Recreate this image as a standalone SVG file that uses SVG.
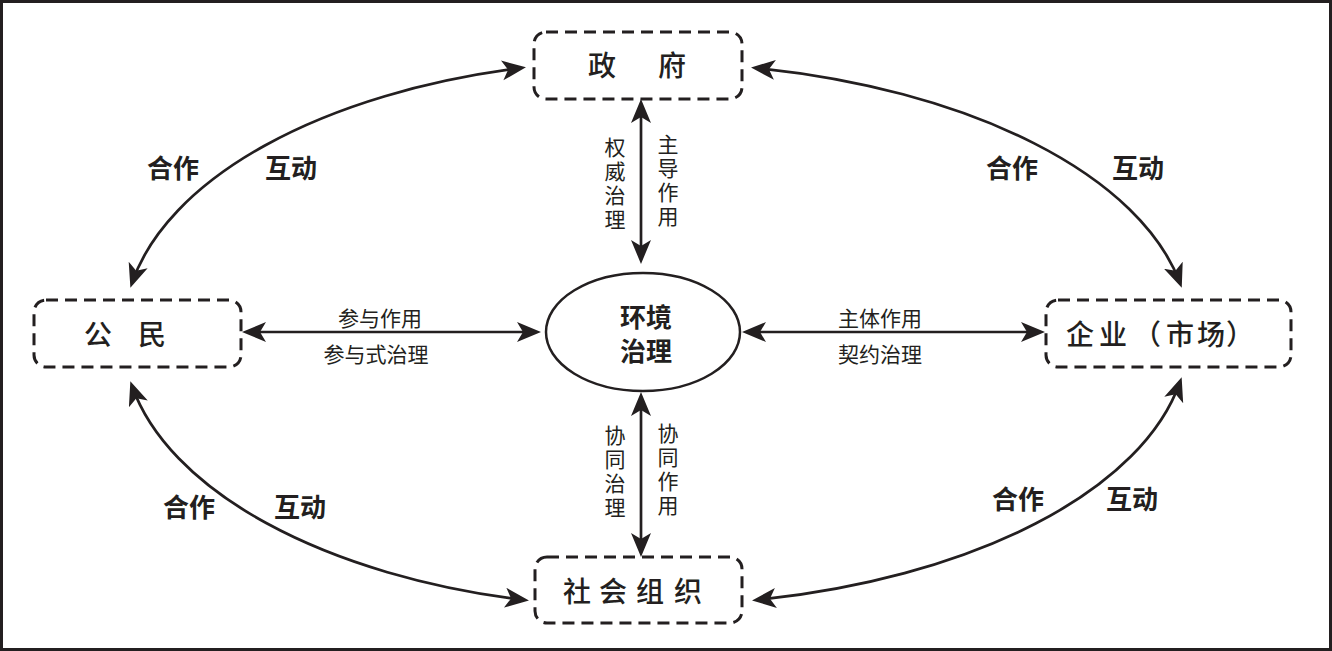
<svg xmlns="http://www.w3.org/2000/svg" width="1332" height="651" viewBox="0 0 1332 651">
<defs>
<marker id="ah" markerUnits="userSpaceOnUse" markerWidth="26" markerHeight="22" refX="19" refY="10" orient="auto-start-reverse" viewBox="0 0 26 22">
<path d="M0,0 L24,10 L0,20 L6,10 z" fill="#231f20"/>
</marker>
<style>
.box{fill:#fff;stroke:#231f20;stroke-width:3;stroke-dasharray:12 7}
.lbl{font-family:"Noto Sans CJK SC","Noto Sans",sans-serif;fill:#231f20;text-anchor:middle;dominant-baseline:central}
.big{font-size:28px;font-weight:500}
.ctr{font-size:26px;font-weight:bold}
.hz{font-size:21px}
.vt{font-size:21px;writing-mode:vertical-rl;letter-spacing:3px}
.ia{font-size:26px;font-weight:bold}
.con{fill:none;stroke:#231f20;stroke-width:2.7;marker-start:url(#ah);marker-end:url(#ah)}
</style>
</defs>
<rect x="0" y="0" width="1332" height="651" fill="#fff"/>
<rect x="1.5" y="1.5" width="1329" height="648" fill="none" stroke="#231f20" stroke-width="3"/>

<g id="connectors">
<line class="con" x1="641" y1="104" x2="641" y2="259"/>
<line class="con" x1="641" y1="397" x2="641" y2="552"/>
<line class="con" x1="247" y1="332" x2="536" y2="332"/>
<line class="con" x1="747" y1="332" x2="1040" y2="332"/>
<path class="con" d="M132,283 A520 270 0 0 1 521,68"/>
<path class="con" d="M756,68 A540 270 0 0 1 1180,283"/>
<path class="con" d="M1180,382 A540 270 0 0 1 757,600"/>
<path class="con" d="M524,600 A520 270 0 0 1 132,386"/>
</g>

<g id="labels">
<text class="lbl hz" x="380" y="317">参与作用</text>
<text class="lbl hz" x="376" y="353">参与式治理</text>
<text class="lbl hz" x="880" y="317">主体作用</text>
<text class="lbl hz" x="880" y="353">契约治理</text>
<text class="lbl vt" x="615" y="185">权威治理</text>
<text class="lbl vt" x="668" y="182">主导作用</text>
<text class="lbl vt" x="615" y="473">协同治理</text>
<text class="lbl vt" x="668" y="471">协同作用</text>
<text class="lbl ia" x="173" y="166">合作</text>
<text class="lbl ia" x="291" y="166">互动</text>
<text class="lbl ia" x="1012" y="166">合作</text>
<text class="lbl ia" x="1138" y="166">互动</text>
<text class="lbl ia" x="189" y="505">合作</text>
<text class="lbl ia" x="300" y="505">互动</text>
<text class="lbl ia" x="1018" y="497">合作</text>
<text class="lbl ia" x="1132" y="497">互动</text>
</g>

<g id="node-gov">
<rect class="box" x="534" y="32" width="208" height="67" rx="12"/>
<text class="lbl big" x="602 672" y="64">政府</text>
</g>
<g id="node-citizen">
<rect class="box" x="34" y="300" width="207" height="67" rx="12"/>
<text class="lbl big" x="98 152" y="333">公民</text>
</g>
<g id="node-enterprise">
<rect class="box" x="1046" y="300" width="245" height="67" rx="12"/>
<text class="lbl big" x="1080 1113 1147 1180 1211 1240" y="333">企业（市场）</text>
</g>
<g id="node-society">
<rect class="box" x="535" y="557" width="207" height="66" rx="12"/>
<text class="lbl big" x="577 613 650 688" y="590">社会组织</text>
</g>
<g id="node-center">
<ellipse cx="643" cy="332" rx="97" ry="59" fill="#fff" stroke="#231f20" stroke-width="2.5"/>
<text class="lbl ctr"><tspan x="646" y="315">环境</tspan><tspan x="646" y="349">治理</tspan></text>
</g>
</svg>
